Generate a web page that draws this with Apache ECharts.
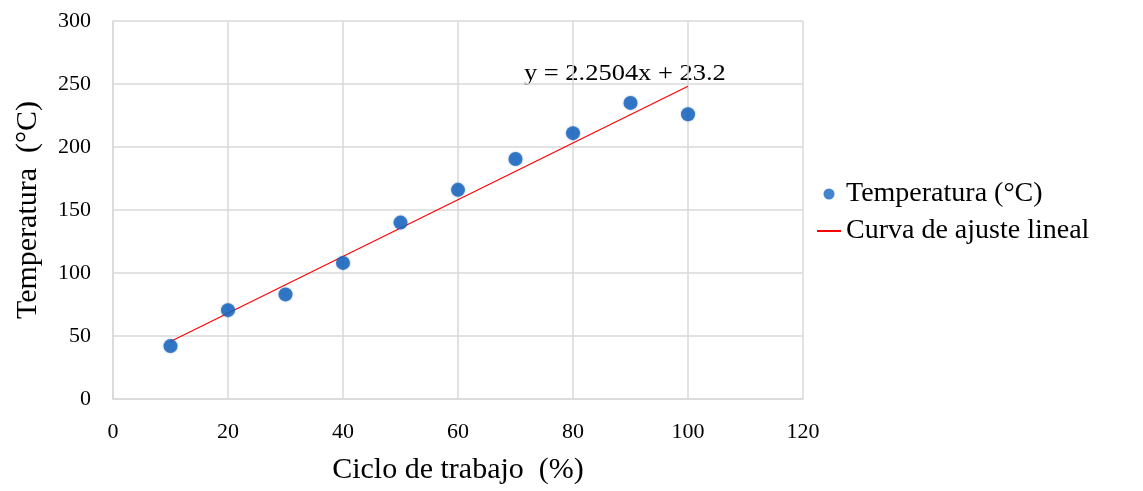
<!DOCTYPE html>
<html>
<head>
<meta charset="utf-8">
<script src="https://cdn.jsdelivr.net/npm/echarts@6/dist/echarts.min.js"></script>
<style>
  html, body { margin: 0; padding: 0; background: #fff; }
  #chart { width: 1143px; height: 491px; }
</style>
</head>
<body>
<div id="chart"></div>
<script>
// ciclo de trabajo (%) vs temperatura medida
const ciclo = [10, 20, 30, 40, 50, 60, 70, 80, 90, 100];
const temperatura = [42, 70.5, 83, 108, 140, 166, 190.5, 211, 235, 226];
// extremos de la recta de ajuste
const ajusteX = [10, 100];
const ajusteY = [45.7, 248.2];
const ecuacion = 'y = 2.2504x + 23.2';

const fuente = '"Liberation Serif", "Times New Roman", serif';
const gris = '#D9D9D9';

const chart = echarts.init(document.getElementById('chart'));
chart.setOption({
    animation: false,
    grid: { left: 113, right: 340, top: 21, bottom: 92 },
    xAxis: {
        type: 'value',
        min: 0,
        max: 120,
        interval: 20,
        name: 'Ciclo de trabajo  (%)',
        nameLocation: 'middle',
        nameGap: 56,
        nameTextStyle: { fontFamily: fuente, fontSize: 30, color: '#000' },
        axisLine: { show: true, lineStyle: { color: gris, width: 1.5 } },
        axisTick: { show: false },
        axisLabel: { fontFamily: fuente, fontSize: 22, color: '#000', margin: 22 },
        splitLine: { show: true, lineStyle: { color: gris, width: 1.5 } }
    },
    yAxis: {
        type: 'value',
        min: 0,
        max: 300,
        interval: 50,
        name: 'Temperatura  (°C)',
        nameLocation: 'middle',
        nameGap: 70,
        nameTextStyle: { fontFamily: fuente, fontSize: 30, color: '#000' },
        axisLine: { show: true, lineStyle: { color: gris, width: 1.5 } },
        axisTick: { show: false },
        axisLabel: { fontFamily: fuente, fontSize: 22, color: '#000', margin: 22 },
        splitLine: { show: true, lineStyle: { color: gris, width: 1.5 } }
    },
    legend: {
        orient: 'vertical',
        left: 812,
        top: 175,
        itemWidth: 24,
        itemHeight: 11,
        itemGap: 9,
        textStyle: { fontFamily: fuente, fontSize: 28, color: '#000' },
        data: [
            { name: 'Temperatura (°C)', icon: 'circle' },
            { name: 'Curva de ajuste lineal', icon: 'path://M0,0M0,4.5L24,4.5L24,6.5L0,6.5ZM24,11' }
        ]
    },
    graphic: [{
        type: 'text',
        left: 524,
        top: 62,
        scaleX: 1.15,
        style: { text: ecuacion, font: '23px ' + fuente, fill: '#000' }
    }],
    series: [
        {
            name: 'Curva de ajuste lineal',
            type: 'line',
            data: ajusteX.map((x, i) => [x, ajusteY[i]]),
            symbol: 'none',
            lineStyle: { color: '#FF0000', width: 1.2 },
            itemStyle: { color: '#FF0000' },
            z: 2
        },
        {
            name: 'Temperatura (°C)',
            type: 'scatter',
            data: ciclo.map((x, i) => [x, temperatura[i]]),
            symbolSize: 14,
            itemStyle: {
                color: '#1565C0',
                shadowBlur: 2,
                shadowColor: 'rgba(0,60,140,0.5)'
            },
            z: 3
        }
    ]
});
</script>
</body>
</html>
